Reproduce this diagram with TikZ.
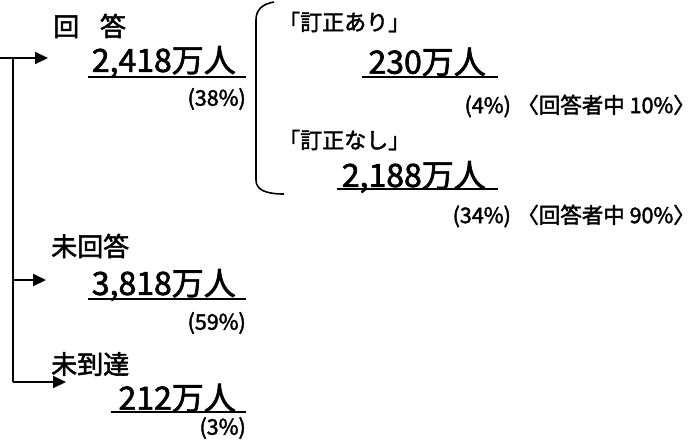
\documentclass[tikz,border=0pt]{standalone}
\usepackage{fontspec}
\setmainfont[FakeBold=2]{Noto Sans CJK JP}
\usetikzlibrary{arrows.meta}
\begin{document}
\begin{tikzpicture}[x=1pt,y=-1pt,
  ln/.style={line width=2pt},
  arr/.style={ln,-{Triangle[length=13pt,width=12pt]}},
  head/.style={anchor=west,inner sep=0pt,font=\fontsize{26}{26}\selectfont},
  sub/.style={anchor=west,inner sep=0pt,font=\fontsize{22}{22}\selectfont},
  big/.style={anchor=east,inner sep=0pt,font=\fontsize{32}{32}\selectfont},
  pct/.style={anchor=east,inner sep=0pt,font=\fontsize{21.5}{22}\selectfont},
  ul/.style={line width=2pt}]
\useasboundingbox (0,0) rectangle (695,440);
% tree
\coordinate (t0) at (0,58);
\coordinate (v0) at (13,58);
\coordinate (v1) at (13,280);
\coordinate (v2) at (13,382);
\coordinate (a0) at (48,58);
\coordinate (a1) at (46,280);
\coordinate (a2) at (66,382);
\draw[ln] (v0) -- (v2);
\draw[arr] (t0) -- (a0);
\draw[arr] (v1) -- (a1);
\draw[arr] (v2) -- (a2);
% answered
\node[head] (h1) at (53,26) {回\hspace{0.8em}答};
\node[big] (n1) at (236,62) {2,418万人};
\draw[ul] (88,77) -- (246,77);
\node[pct] (p1) at (246,99) {(38\%)};
% bracket
\draw[ln,line width=1.6pt] (274,2) .. controls (262,4) and (256,10) .. (256,20) -- (256,180) .. controls (256,190) and (266,194) .. (284,194);
\node[sub] (s1) at (278,22) {「訂正あり」};
\node[big] (n2) at (486,62) {230万人};
\draw[ul] (362,77) -- (498,77);
\node[pct] (p2) at (695,106) {(4\%)\hspace{0.3em}〈回答者中 10\%〉};
\node[sub] (s2) at (278,140) {「訂正なし」};
\node[big] (n3) at (486,177) {2,188万人};
\draw[ul] (337,189) -- (498,189);
\node[pct] (p3) at (695,216) {(34\%)\hspace{0.3em}〈回答者中 90\%〉};
% unanswered
\node[head] (h2) at (51,246) {未回答};
\node[big] (n4) at (236,285) {3,818万人};
\draw[ul] (88,299) -- (246,299);
\node[pct] (p4) at (246,323) {(59\%)};
% undelivered
\node[head] (h3) at (51,364) {未到達};
\node[big] (n5) at (236,398) {212万人};
\draw[ul] (111,412) -- (246,412);
\node[pct] (p5) at (246,428) {(3\%)};
\end{tikzpicture}
\end{document}
